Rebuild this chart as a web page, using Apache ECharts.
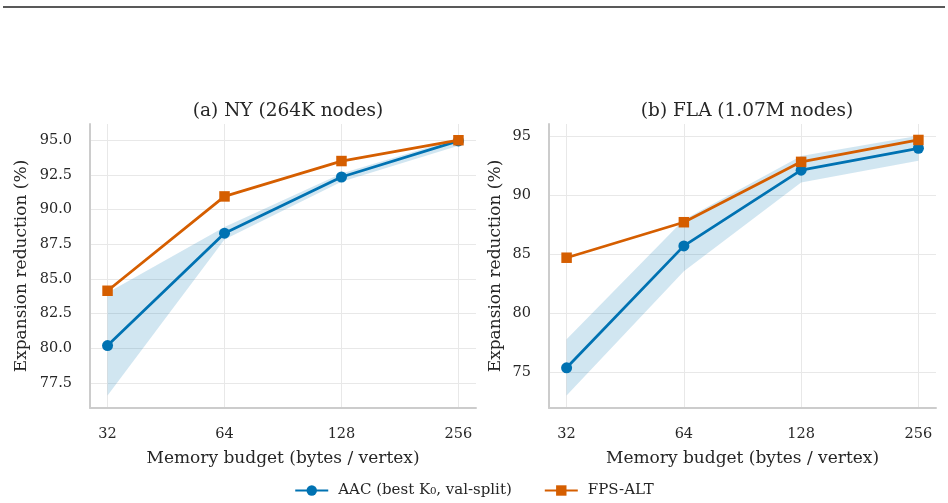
<!DOCTYPE html>
<html>
<head>
<meta charset="utf-8">
<script src="https://cdn.jsdelivr.net/npm/echarts@6/dist/echarts.min.js"></script>
<style>
  html, body { margin: 0; padding: 0; background: #fff; }
  #main { width: 948px; height: 503px; }
</style>
</head>
<body>
<div id="main"></div>
<script>
// memory budget (bytes / vertex)
var memory = [32, 64, 128, 256];

// (a) NY
var nyAac = [80.2, 88.3, 92.35, 94.95];
var nyAacLow = [76.6, 87.85, 92.0, 94.6];
var nyAacHigh = [84.0, 88.75, 92.6, 95.15];
var nyFps = [84.15, 90.95, 93.5, 95.0];

// (b) FLA
var flaAac = [75.4, 85.7, 92.1, 93.95];
var flaAacLow = [73.05, 83.55, 91.05, 92.9];
var flaAacHigh = [77.8, 87.9, 93.3, 95.0];
var flaFps = [84.7, 87.7, 92.8, 94.65];

var titles = ['(a) NY (264K nodes)', '(b) FLA (1.07M nodes)'];
var aacName = 'AAC (best K\u2080, val-split)';
var fpsName = 'FPS-ALT';

var BLUE = '#0072B2';
var ORANGE = '#D55E00';
var BAND = 'rgba(0,114,178,0.18)';
var TEXT = '#262626';
var FONT = 'DejaVu Serif';

function pairs(ys) {
  return memory.map(function (m, i) { return [m, ys[i]]; });
}

function xAxisFor(idx) {
  return {
    gridIndex: idx,
    type: 'log',
    logBase: 2,
    min: 32 * Math.pow(2, -0.15),
    max: 256 * Math.pow(2, 0.15),
    name: 'Memory budget (bytes / vertex)',
    nameLocation: 'middle',
    nameGap: 42,
    nameTextStyle: {color: TEXT, fontFamily: FONT, fontSize: 17},
    axisLine: {show: true, lineStyle: {color: '#cccccc', width: 2}},
    axisTick: {show: false},
    axisLabel: {color: TEXT, fontFamily: FONT, fontSize: 14.5, margin: 19,
      showMinLabel: false, showMaxLabel: false},
    splitLine: {show: true, showMinLine: false, showMaxLine: false,
      lineStyle: {color: '#e8e8e8', width: 1}}
  };
}

function yAxisFor(idx, min, max, step, gap) {
  return {
    gridIndex: idx,
    type: 'value',
    min: min,
    max: max,
    minInterval: step,
    maxInterval: step,
    name: 'Expansion reduction (%)',
    nameLocation: 'middle',
    nameGap: gap,
    nameTextStyle: {color: TEXT, fontFamily: FONT, fontSize: 17},
    axisLine: {show: true, lineStyle: {color: '#cccccc', width: 2}},
    axisTick: {show: false},
    axisLabel: {color: TEXT, fontFamily: FONT, fontSize: 14.5, margin: 18,
      showMinLabel: false, showMaxLabel: false,
      formatter: function (v) { return step < 5 ? v.toFixed(1) : String(v); }},
    splitLine: {show: true, showMinLine: false, showMaxLine: false,
      lineStyle: {color: '#e8e8e8', width: 1}}
  };
}

// shaded band between low and high, drawn once as one polygon
function bandSeries(idx, low, high) {
  return {
    type: 'custom', xAxisIndex: idx, yAxisIndex: idx, silent: true, z: 1,
    data: memory.map(function (m, i) { return [m, low[i], high[i]]; }),
    renderItem: function (params, api) {
      if (params.dataIndex !== 0) return null;
      var pts = [];
      for (var i = 0; i < memory.length; i++) pts.push(api.coord([memory[i], high[i]]));
      for (var j = memory.length - 1; j >= 0; j--) pts.push(api.coord([memory[j], low[j]]));
      return {
        type: 'polygon',
        shape: {points: pts},
        style: {fill: BAND},
        clipPath: {type: 'rect', shape: {x: params.coordSys.x, y: params.coordSys.y,
          width: params.coordSys.width, height: params.coordSys.height}}
      };
    }
  };
}

function seriesFor(idx, low, high, aac, fps) {
  return [
    bandSeries(idx, low, high),
    {
      name: aacName, type: 'line', xAxisIndex: idx, yAxisIndex: idx,
      data: pairs(aac), symbol: 'circle', symbolSize: 11,
      lineStyle: {color: BLUE, width: 2.8}, itemStyle: {color: BLUE}, z: 3
    },
    {
      name: fpsName, type: 'line', xAxisIndex: idx, yAxisIndex: idx,
      data: pairs(fps), symbol: 'rect', symbolSize: 10.5,
      lineStyle: {color: ORANGE, width: 2.8}, itemStyle: {color: ORANGE}, z: 4
    }
  ];
}

var chart = echarts.init(document.getElementById('main'), null, {renderer: 'canvas'});

var option = {
  backgroundColor: '#ffffff',
  animation: false,
  textStyle: {fontFamily: FONT, color: TEXT},
  title: [
    {text: titles[0], left: 283, top: 97, textAlign: 'center',
      textStyle: {fontFamily: FONT, fontSize: 18.5, fontWeight: 'normal', color: TEXT}},
    {text: titles[1], left: 742, top: 97, textAlign: 'center',
      textStyle: {fontFamily: FONT, fontSize: 18.5, fontWeight: 'normal', color: TEXT}}
  ],
  legend: {
    data: [aacName, fpsName],
    left: 'center',
    top: 478,
    itemWidth: 33,
    itemHeight: 13,
    itemGap: 32,
    textStyle: {fontFamily: FONT, fontSize: 15, color: TEXT, padding: [0, 0, 0, 5]}
  },
  grid: [
    {left: 90, top: 124, width: 386, height: 284},
    {left: 549, top: 124, width: 387, height: 284}
  ],
  xAxis: [xAxisFor(0), xAxisFor(1)],
  yAxis: [
    yAxisFor(0, 75.7, 96.17, 2.5, 60),
    yAxisFor(1, 72.0, 96.0, 5, 45)
  ],
  graphic: [
    {type: 'line', shape: {x1: 3, y1: 7, x2: 945, y2: 7},
      style: {stroke: '#222222', lineWidth: 1.5}, silent: true}
  ],
  series: [].concat(
    seriesFor(0, nyAacLow, nyAacHigh, nyAac, nyFps),
    seriesFor(1, flaAacLow, flaAacHigh, flaAac, flaFps)
  )
};

chart.setOption(option);
</script>
</body>
</html>
